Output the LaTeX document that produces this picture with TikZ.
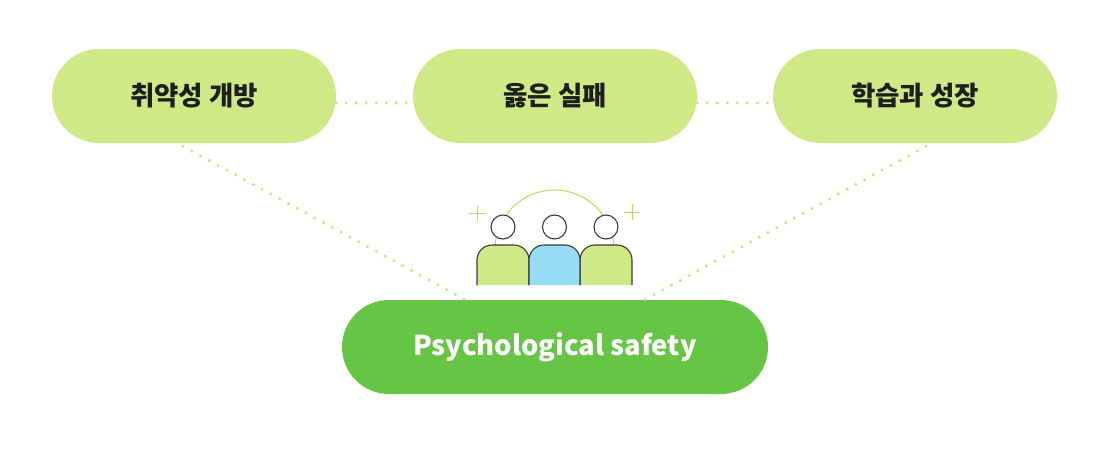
\documentclass[tikz,border=0pt]{standalone}
\usepackage{fontspec}
\setmainfont{Noto Sans CJK KR}
\usetikzlibrary{calc}
\definecolor{lime}{HTML}{CFE986}
\definecolor{leaf}{HTML}{66C545}
\definecolor{sky}{HTML}{96DCF5}
\definecolor{dotgreen}{HTML}{C9E57A}
\definecolor{arcgreen}{HTML}{B2DD5E}
\definecolor{ink}{HTML}{1E1E1E}
\definecolor{outline}{HTML}{3A3A3A}
\tikzset{
	pill/.style={rectangle, rounded corners=47pt, minimum width=284pt, minimum height=94pt, fill=lime, text=ink, font=\fontsize{26.5}{30}\selectfont\bfseries},
	bigpill/.style={pill, minimum width=426pt, fill=leaf, text=white, font=\fontsize{27.4}{32}\selectfont\bfseries},
	dotline/.style={dotgreen, line width=3.3pt, line cap=round, dash pattern=on 0pt off 10pt},
	person/.style={draw=outline, line width=1.1pt, rounded corners=15pt}
}
\begin{document}
\begin{tikzpicture}[x=1pt, y=-1pt]
		\useasboundingbox (0, 0) rectangle (1113, 450);
		%%%%% START %%%%%
		\node[pill] (vul) at (194, 96) {취약성 개방};
		\node[pill] (fail) at (555, 96) {옳은 실패};
		\node[pill] (learn) at (915, 96) {학습과 성장};
		\node[bigpill] (psy) at (555, 347) {Psychological safety};
		
		\draw[dotline] ([yshift=-7pt]vul.east) -- ([yshift=-7pt]fail.west);
		\draw[dotline] ([yshift=-7pt]fail.east) -- ([yshift=-7pt]learn.west);
		\draw[dotline] ([xshift=-11pt, yshift=-3pt]vul.south) -- ([xshift=-86pt, yshift=-2pt]psy.north);
		\draw[dotline] ([xshift=11pt, yshift=-3pt]learn.south) -- ([xshift=86pt, yshift=-2pt]psy.north);
		
		%% people
		\draw[arcgreen, line width=1pt] (495, 249.5) arc (180:360:59.5);
		\draw[arcgreen, line width=1pt] (469, 213) -- (485, 213) (477, 205) -- (477, 221);
		\draw[arcgreen, line width=1pt] (624, 212) -- (640, 212) (632, 204) -- (632, 220);
		
		\draw[draw=outline, line width=1.1pt, fill=white] (503, 227) circle (12);
		\draw[draw=outline, line width=1.1pt, fill=white] (554.5, 227) circle (12);
		\draw[draw=outline, line width=1.1pt, fill=white] (606, 227) circle (12);
		
		\draw[person, fill=lime] (477, 285) -- (477, 245) -- (529, 245) -- (529, 285);
		\draw[person, fill=lime] (580, 285) -- (580, 245) -- (632, 245) -- (632, 285);
		\draw[person, fill=sky] (529, 285) -- (529, 245) -- (580, 245) -- (580, 285);
		%%%%% END %%%%%
\end{tikzpicture}
\end{document}
